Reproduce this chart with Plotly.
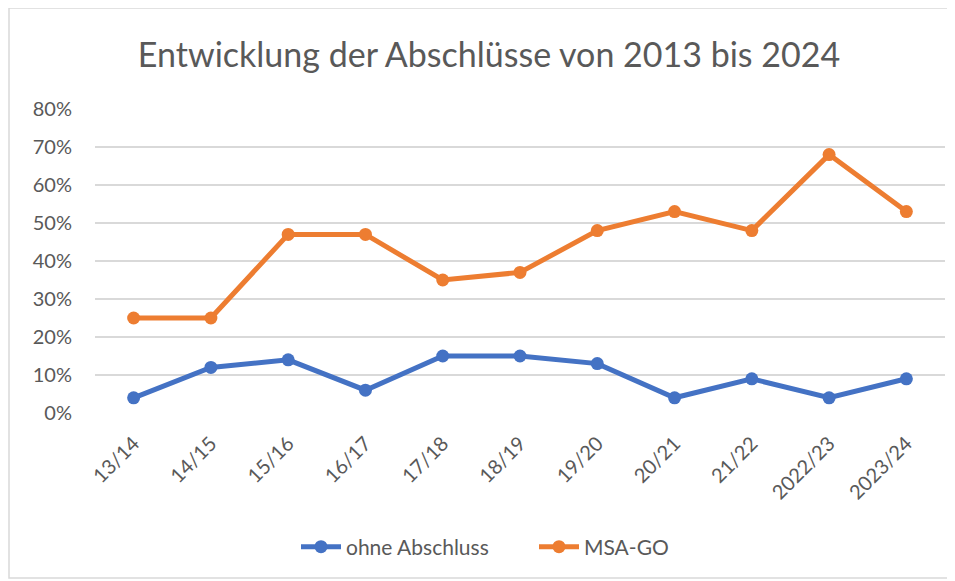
import plotly.graph_objects as go

categories = ["13/14", "14/15", "15/16", "16/17", "17/18", "18/19", "19/20", "20/21", "21/22", "2022/23", "2023/24"]
ohne_abschluss = [0.04, 0.12, 0.14, 0.06, 0.15, 0.15, 0.13, 0.04, 0.09, 0.04, 0.09]
msa_go = [0.25, 0.25, 0.47, 0.47, 0.35, 0.37, 0.48, 0.53, 0.48, 0.68, 0.53]
y_ticks = [0, 0.1, 0.2, 0.3, 0.4, 0.5, 0.6, 0.7, 0.8]

FONT = "Lato"
GREY = "#595959"

fig = go.Figure()
fig.add_trace(go.Scatter(x=categories, y=ohne_abschluss, name="ohne Abschluss",
                         mode="lines+markers",
                         line=dict(color="#4472C4", width=5),
                         marker=dict(color="#4472C4", size=13)))
fig.add_trace(go.Scatter(x=categories, y=msa_go, name="MSA-GO",
                         mode="lines+markers",
                         line=dict(color="#ED7D31", width=5),
                         marker=dict(color="#ED7D31", size=13)))

# page has 8px body margin: figure coords = page coords - 8
OFF = 8
W, H = 947, 573
L, T = 95 - OFF, 109 - OFF
pw, ph = 850, 304
R, B = W - L - pw, H - T - ph

def px_x(x):
    return (x - OFF - L) / pw

def px_y(y):
    return (T + ph - (y - OFF)) / ph

fig.update_layout(
    width=W, height=H,
    margin=dict(l=L, r=R, t=T, b=B, pad=0),
    paper_bgcolor="white", plot_bgcolor="white",
    font=dict(family=FONT, color=GREY, size=20),
    title=dict(text="Entwicklung der Abschlüsse von 2013 bis 2024",
               x=px_x(489), xanchor="center", xref="paper",
               y=1 - (55 - OFF) / H, yanchor="middle",
               font=dict(family=FONT, size=34, color=GREY)),
    xaxis=dict(type="category", range=[-0.5, len(categories) - 0.5],
               tickangle=-45, showgrid=False, showline=False,
               ticks="", tickfont=dict(size=20, color=GREY), ticklabelstandoff=14),
    yaxis=dict(range=[0, 0.8], tickvals=y_ticks, tickformat=".0%",
               showgrid=True, gridcolor="#d9d9d9", gridwidth=1.5,
               zeroline=False, showline=False, ticks="",
               tickfont=dict(size=20, color=GREY), ticklabelstandoff=22),
    legend=dict(orientation="h", x=px_x(296), xanchor="left",
                y=px_y(547), yanchor="middle",
                font=dict(size=21, color=GREY), itemwidth=40,
                entrywidth=183, entrywidthmode="pixels"),
    shapes=[dict(type="rect", xref="paper", yref="paper",
                 x0=px_x(9), x1=px_x(950), y0=px_y(578), y1=px_y(8),
                 line=dict(color="#d9d9d9", width=1.5), layer="below")],
)

fig.write_html("out.html")
